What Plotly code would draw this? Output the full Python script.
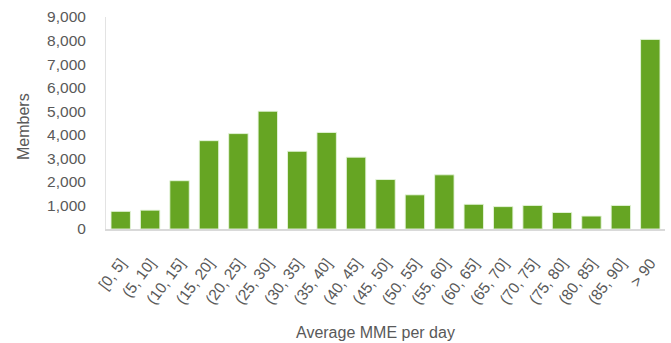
import plotly.graph_objects as go

categories = ["[0, 5]", "(5, 10]", "(10, 15]", "(15, 20]", "(20, 25]", "(25, 30]",
              "(30, 35]", "(35, 40]", "(40, 45]", "(45, 50]", "(50, 55]", "(55, 60]",
              "(60, 65]", "(65, 70]", "(70, 75]", "(75, 80]", "(80, 85]", "(85, 90]", "> 90"]
members = [750, 800, 2050, 3750, 4050, 5000, 3300, 4100, 3050, 2100, 1450, 2300,
           1050, 950, 1000, 700, 550, 1000, 8050]
y_ticks = [0, 1000, 2000, 3000, 4000, 5000, 6000, 7000, 8000, 9000]

font_family = "Liberation Sans, Arial, sans-serif"
text_color = "#595959"

W, H = 671, 343
l, r, t, b = 106, 6, 17, 114
pw, ph = W - l - r, H - t - b


def px_x(px):
    return (px - l) / pw


def px_y(py):
    return (H - b - py) / ph


fig = go.Figure(go.Bar(
    x=categories, y=members,
    marker=dict(color="#66A523", line=dict(color="rgba(230,245,220,0.9)", width=1)),
    width=0.66,
))

fig.update_layout(
    width=W, height=H,
    margin=dict(l=l, r=r, t=t, b=b),
    paper_bgcolor="white", plot_bgcolor="white",
    font=dict(family=font_family, color=text_color, size=16),
    showlegend=False,
    xaxis=dict(
        showline=True, linecolor="#D9D9D9", linewidth=2,
        showgrid=False, tickangle=-53, ticks="",
        tickfont=dict(size=15.5, color=text_color),
        ticklabelstandoff=17,
    ),
    yaxis=dict(
        range=[0, 9000], tickvals=y_ticks, tickformat=",",
        showline=True, linecolor="#E3E3E3", linewidth=1,
        showgrid=False, zeroline=False, ticks="",
        tickfont=dict(size=15.5, color=text_color),
        ticklabelstandoff=16,
    ),
    annotations=[
        dict(text="Members", x=px_x(23), y=px_y(127), xref="paper", yref="paper",
             showarrow=False, textangle=-90, xanchor="center", yanchor="middle",
             font=dict(size=16, color=text_color)),
        dict(text="Average MME per day", x=px_x(375), y=px_y(332), xref="paper", yref="paper",
             showarrow=False, xanchor="center", yanchor="middle",
             font=dict(size=16, color=text_color)),
    ],
)

fig.write_html("out.html")
